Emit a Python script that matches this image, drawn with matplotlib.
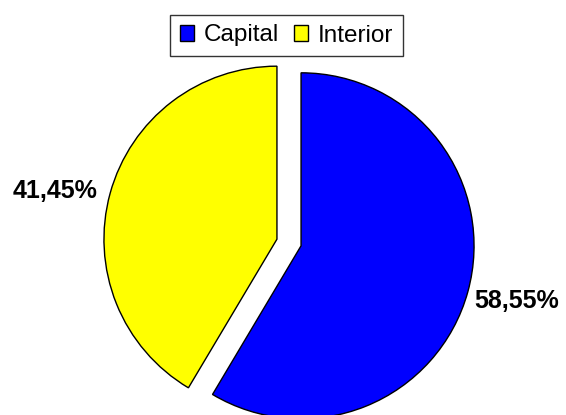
import matplotlib
matplotlib.use("Agg")
import matplotlib.pyplot as plt
from matplotlib.patches import Patch

categories = ["Capital", "Interior"]
values = [58.55, 41.45]
labels = ["58,55%", "41,45%"]
colors = ["#0000FF", "#FFFF00"]

W, H = 566, 415
fig = plt.figure(figsize=(W / 100, H / 100), dpi=100)
ax = fig.add_axes([0, 0, 1, 1])
ax.axis("off")

cx, cy, r = 289, H - 242.5, 173
wedges, _ = ax.pie(values, colors=colors, startangle=90, counterclock=False,
                   center=(cx, cy), radius=r, explode=[12.5, 12.5],
                   wedgeprops=dict(edgecolor="black", linewidth=1.0))
ax.set_xlim(0, W)
ax.set_ylim(0, H)
ax.set_aspect("equal")

font = ["Liberation Sans", "DejaVu Sans"]
ax.text(517, H - 301, labels[0], ha="center", va="center", fontsize=18,
        fontweight="bold", family=font)
ax.text(55, H - 191, labels[1], ha="center", va="center", fontsize=18,
        fontweight="bold", family=font)

handles = [Patch(facecolor=c, edgecolor="black", linewidth=1.0) for c in colors]
leg = fig.legend(handles, categories, loc="center",
                 bbox_to_anchor=(286.5 / W, 1 - 35.5 / H), ncol=2,
                 prop=dict(family=font, size=17.5), frameon=True, fancybox=False,
                 shadow=False, handlelength=0.6, handleheight=0.6,
                 handletextpad=0.4, columnspacing=0.6, borderpad=0.4,
                 borderaxespad=0)
leg.get_frame().set_edgecolor("black")
leg.get_frame().set_linewidth(1.0)

fig.savefig("out.png", dpi=100)
